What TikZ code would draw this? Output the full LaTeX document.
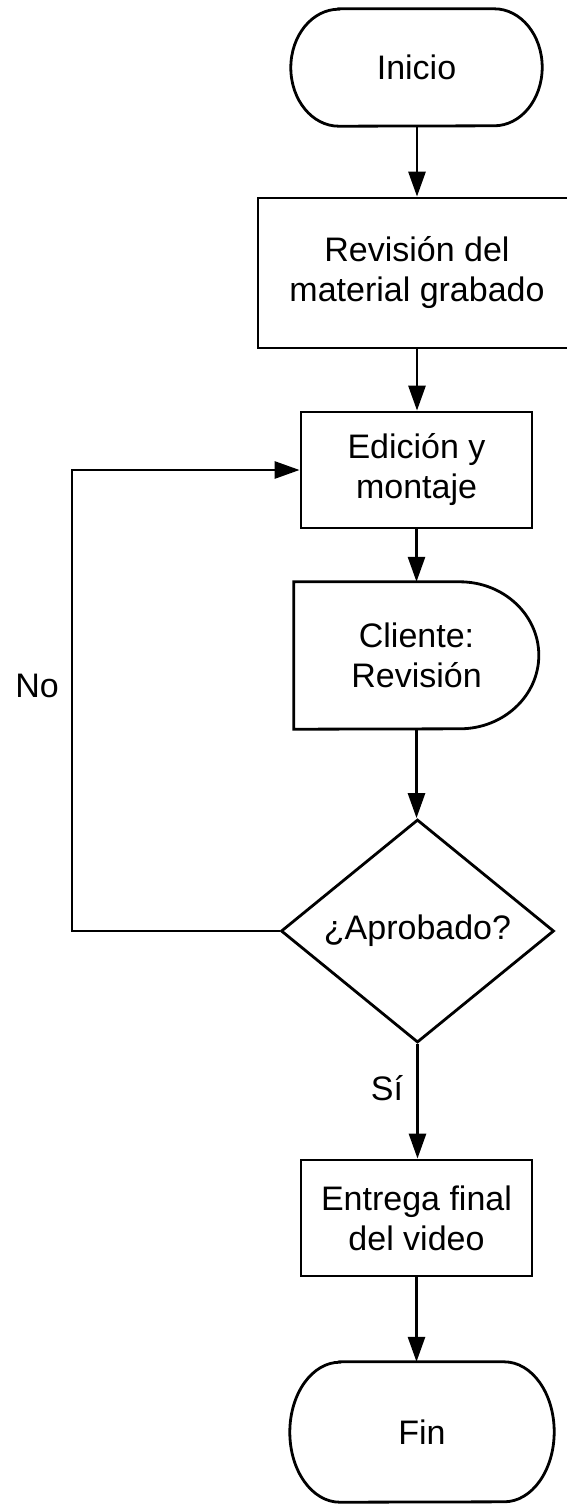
\documentclass[tikz,border=0pt]{standalone}
\usepackage{fontspec}
\setmainfont{Liberation Sans}
\usetikzlibrary{shapes.geometric,arrows.meta}
\begin{document}
\begin{tikzpicture}[x=1pt,y=-1pt,
  every node/.style={font=\fontsize{34}{40}\selectfont, align=center, inner sep=0pt},
  box/.style={draw, line width=2.8pt, rectangle},
  term/.style={rectangle},
  dec/.style={draw, line width=2.8pt, diamond},
  conn/.style={line width=2.8pt, -{Triangle[length=25pt,width=17pt]}},
  shapeline/.style={line width=2.8pt}]
\useasboundingbox (0,0) rectangle (566,1504);
\fill[white] (0,0) rectangle (566,1504);

\node[term, minimum width=251pt, minimum height=117pt] (ini) at (416.5,67.5) {Inicio};
\draw[shapeline] ([xshift=48pt]ini.north west) -- ([xshift=-48pt]ini.north east)
  arc[start angle=90, end angle=-90, x radius=48pt, y radius=58.5pt]
  -- ([xshift=48pt]ini.south west)
  arc[start angle=270, end angle=90, x radius=48pt, y radius=58.5pt] -- cycle;
\node[box, minimum width=318pt, minimum height=150pt] (rev) at (417,273) {Revisión del\\material grabado};
\node[box, minimum width=231pt, minimum height=116pt] (edi) at (416.5,470) {Edición y\\montaje};
\node[minimum width=245pt, minimum height=147pt] (cli) at (416.5,655.5) {Cliente:\\Revisión};
\draw[shapeline] (cli.north west) -- ++(166,0)
  arc[start angle=90, end angle=-90, x radius=79pt, y radius=73.5pt]
  -- (cli.south west) -- cycle;
\node[dec, minimum width=273pt, minimum height=223pt] (apr) at (417.5,931) {¿Aprobado?};
\node[box, minimum width=231pt, minimum height=116pt] (ent) at (416.5,1218) {Entrega final\\del video};
\node[term, minimum width=264pt, minimum height=140pt] (fin) at (422,1432) {Fin};
\draw[shapeline] ([xshift=50pt]fin.north west) -- ([xshift=-50pt]fin.north east)
  arc[start angle=90, end angle=-90, x radius=50pt, y radius=70pt]
  -- ([xshift=50pt]fin.south west)
  arc[start angle=270, end angle=90, x radius=50pt, y radius=70pt] -- cycle;

\coordinate (lc) at (72,931);
\node (no) at (37,686) {No};
\node (si) at (387,1088) {Sí};

\draw[conn] (ini.south -| rev.north) -- (rev.north);
\draw[conn] (rev.south) -- (rev.south |- edi.north);
\draw[conn] (edi.south) -- (cli.north);
\draw[conn] (cli.south) -- (cli.south |- apr.north);
\draw[conn] (apr.south) -- (apr.south |- ent.north);
\draw[conn] (ent.south) -- (ent.south |- fin.north);
\draw[conn] (apr.west) -- (lc) |- (edi.west);
\end{tikzpicture}
\end{document}
